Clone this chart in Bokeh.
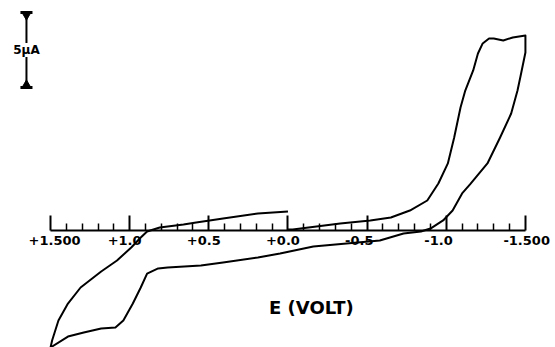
from bokeh.plotting import figure
from bokeh.models import Range1d, LinearAxis, FixedTicker, Label
from bokeh.embed import file_html
from bokeh.resources import INLINE
from bokeh.core.properties import value

# Cyclic voltammogram, in scan order: potential (V) and current (uA)
E_V = [0.00, 0.19, 0.41, 0.58, 0.66, 0.81, 0.89, 0.93, 0.99, 1.08, 1.18, 1.31, 1.39, 1.45, 1.49, 1.50,
       1.39, 1.29, 1.18, 1.09, 1.04, 0.98, 0.93, 0.89, 0.82, 0.76, 0.55, 0.41, 0.19, 0.05, -0.16,
       -0.58, -0.73, -0.84, -0.90, -0.98, -1.04, -1.10, -1.15, -1.26, -1.34, -1.41, -1.45, -1.47,
       -1.50, -1.50,
       -1.42, -1.36, -1.30, -1.27, -1.23, -1.20, -1.17, -1.12, -1.09, -1.05, -1.01, -0.95, -0.88,
       -0.77, -0.65, -0.52, -0.33, -0.03, 0.00]
I_uA = [1.27, 1.13, 0.80, 0.53, 0.40, 0.20, -0.07, -0.47, -1.13, -2.00, -2.73, -3.80, -4.87, -6.00, -7.33, -7.80,
        -7.07, -6.80, -6.53, -6.47, -6.00, -4.87, -3.80, -2.87, -2.53, -2.47, -2.33, -2.13, -1.80, -1.53, -1.07,
        -0.67, -0.20, -0.07, 0.13, 0.67, 1.33, 2.47, 3.07, 4.47, 6.20, 7.80, 9.33, 10.33,
        11.87, 13.00,
        12.87, 12.67, 12.80, 12.80, 12.47, 11.80, 10.67, 9.33, 8.20, 6.20, 4.47, 3.13, 2.00,
        1.33, 0.87, 0.67, 0.47, 0.07, 0.07]

tick_values = [1.5, 1.0, 0.5, 0.0, -0.5, -1.0, -1.5]
tick_labels = ["+1.500", "+1.0", "+0.5", "+0.0", "-0.5", "-1.0", "-1.500"]
minor_values = [1.4, 1.3, 1.2, 1.1, 0.9, 0.8, 0.7, 0.6, 0.4, 0.3, 0.2, 0.1,
                -0.1, -0.2, -0.3, -0.4, -0.6, -0.7, -0.8, -0.9, -1.1, -1.2, -1.3, -1.4]
axis_title = "E (VOLT)"
scale_uA = 5
scale_text = "5\u00b5A"

p = figure(width=555, height=347, output_backend="svg", toolbar_location=None,
           x_range=Range1d(1.816, -1.690), y_range=Range1d(-7.8, 15.333),
           x_axis_type=None, y_axis_type=None, min_border=0)
p.outline_line_color = None
p.xgrid.visible = False
p.ygrid.visible = False

axis = LinearAxis(fixed_location=0, bounds=(-1.5, 1.5),
                  ticker=FixedTicker(ticks=tick_values, minor_ticks=minor_values),
                  axis_line_width=2, axis_line_color="black",
                  major_tick_in=15, major_tick_out=0, major_tick_line_width=2,
                  minor_tick_in=7, minor_tick_out=0, minor_tick_line_width=1.5,
                  major_label_text_alpha=0, major_label_text_font_size="1px",
                  major_label_standoff=0)
p.add_layout(axis, "below")

p.text(x=tick_values, y=[0] * len(tick_values), text=tick_labels,
       text_align="left", text_baseline="top", x_offset=-22, y_offset=6,
       text_font=value("DejaVu Sans"), text_font_style="bold", text_font_size="13px",
       text_color="black")

p.line(E_V, I_uA, line_color="black", line_width=2, line_join="round")

# scale bar (5 uA)
sx = 1.652
stop = 14.53
sbot = stop - scale_uA
p.segment(x0=[sx], y0=[sbot], x1=[sx], y1=[stop], line_color="black", line_width=2)
p.segment(x0=[sx + 0.038, sx + 0.038], y0=[stop, sbot], x1=[sx - 0.038, sx - 0.038], y1=[stop, sbot],
          line_color="black", line_width=3)
p.scatter([sx], [stop - 0.2], marker="inverted_triangle", size=8, color="black")
p.scatter([sx], [sbot + 0.2], marker="triangle", size=8, color="black")
p.add_layout(Label(x=sx, y=(stop + sbot) / 2, text=scale_text, text_align="center",
                   text_baseline="middle", text_font="DejaVu Sans", text_font_style="bold",
                   text_font_size="12px", text_color="black", background_fill_color="white"))

p.add_layout(Label(x=-0.148, y=-5.13, text=axis_title, text_align="center",
                   text_baseline="middle", text_font="DejaVu Sans", text_font_style="bold",
                   text_font_size="18px", text_color="black"))

open("out.html", "w").write(file_html(p, INLINE))
